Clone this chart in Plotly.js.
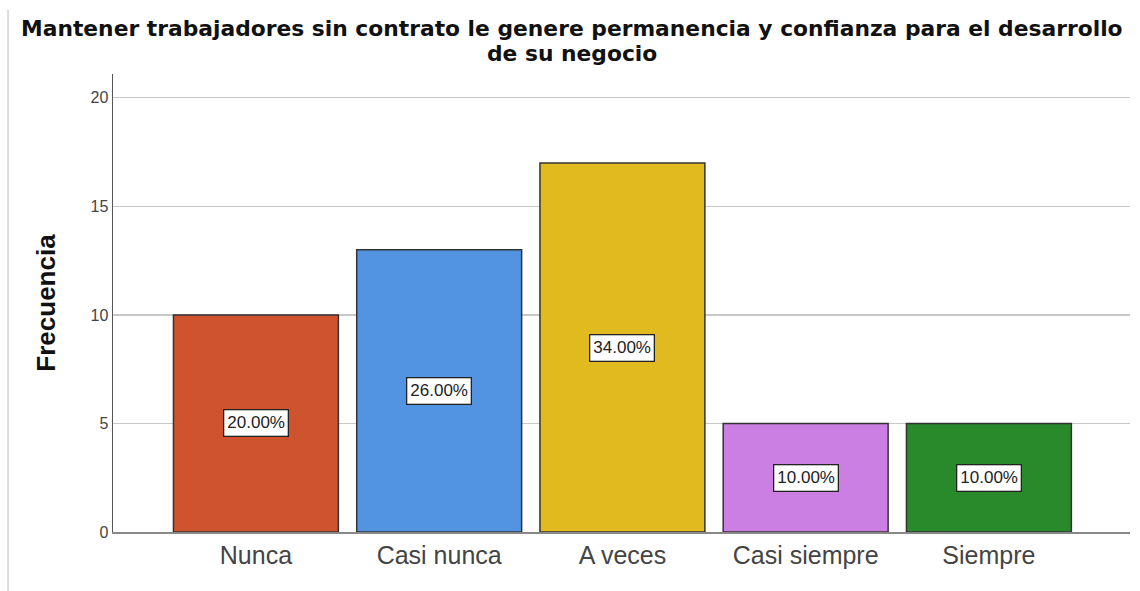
<!DOCTYPE html>
<html>
<head>
<meta charset="utf-8">
<script src="https://cdn.plot.ly/plotly-3.0.1.min.js"></script>
<style>html,body{margin:0;padding:0;background:#fff;}#chart{width:1140px;height:591px;}</style>
</head>
<body>
<div id="chart"></div>
<script>
var categories = ["Nunca", "Casi nunca", "A veces", "Casi siempre", "Siempre"];
var frecuencias = [10, 13, 17, 5, 5];
var porcentajes = ["20.00%", "26.00%", "34.00%", "10.00%", "10.00%"];
var colores = ["#D0532F", "#5294E2", "#E0BA1E", "#CC7FE3", "#288A2B"];
var yTicks = [0, 5, 10, 15, 20];
var titleLines = ["Mantener trabajadores sin contrato le genere permanencia y confianza para el desarrollo", "de su negocio"];

var trace = {
  type: "bar",
  x: categories,
  y: frecuencias,
  width: 0.9,
  marker: {color: colores, line: {color: "#333333", width: 1.5}},
  hoverinfo: "none"
};

var annotations = categories.map(function (c, i) {
  return {
    x: c, y: frecuencias[i] / 2, xref: "x", yref: "y",
    text: porcentajes[i], showarrow: false,
    font: {family: "Liberation Sans, Arial, sans-serif", size: 17, color: "#222"},
    bgcolor: "#ffffff", bordercolor: "#222222", borderwidth: 1.3, borderpad: 3
  };
});

// title lines (paper coords: plot top at 74px, bottom at 532px)
var titleY = [28, 54];
titleLines.forEach(function (t, i) {
  annotations.push({
    xref: "paper", yref: "paper",
    x: (572 - 113) / 1017, y: (532 - titleY[i]) / 458,
    xanchor: "center", yanchor: "middle",
    text: "<b>" + t + "</b>", showarrow: false,
    font: {family: "DejaVu Sans, sans-serif", size: 21.8, color: "#111"}
  });
});

var layout = {
  width: 1140, height: 591,
  margin: {l: 113, r: 10, t: 74, b: 59},
  paper_bgcolor: "#ffffff", plot_bgcolor: "#ffffff",
  showlegend: false,
  xaxis: {
    type: "category",
    range: [-0.78, 4.77],
    showgrid: false,
    showline: true, linecolor: "#888888", linewidth: 1.5,
    ticks: "",
    tickfont: {family: "Liberation Sans, Arial, sans-serif", size: 25, color: "#444"},
    fixedrange: true
  },
  yaxis: {
    range: [0, 21.1],
    tickvals: yTicks,
    ticktext: yTicks.map(String),
    showgrid: true, gridcolor: "#c8c8c8", gridwidth: 1.2,
    zeroline: false,
    showline: true, linecolor: "#555555", linewidth: 1.5,
    ticks: "", ticklen: 0,
    tickfont: {family: "Liberation Sans, Arial, sans-serif", size: 16, color: "#444"},
    title: {text: "<b>Frecuencia</b>", font: {family: "Liberation Sans, Arial, sans-serif", size: 26, color: "#111"}, standoff: 27},
    fixedrange: true
  },
  annotations: annotations,
  shapes: [
    {type: "line", xref: "paper", yref: "paper", x0: -0.1032, x1: -0.1032, y0: -0.13, y1: 1.14, line: {color: "#bbbbbb", width: 1}}
  ],
  bargap: 0.1
};

Plotly.newPlot("chart", [trace], layout, {displayModeBar: false, staticPlot: true});
</script>
</body>
</html>
